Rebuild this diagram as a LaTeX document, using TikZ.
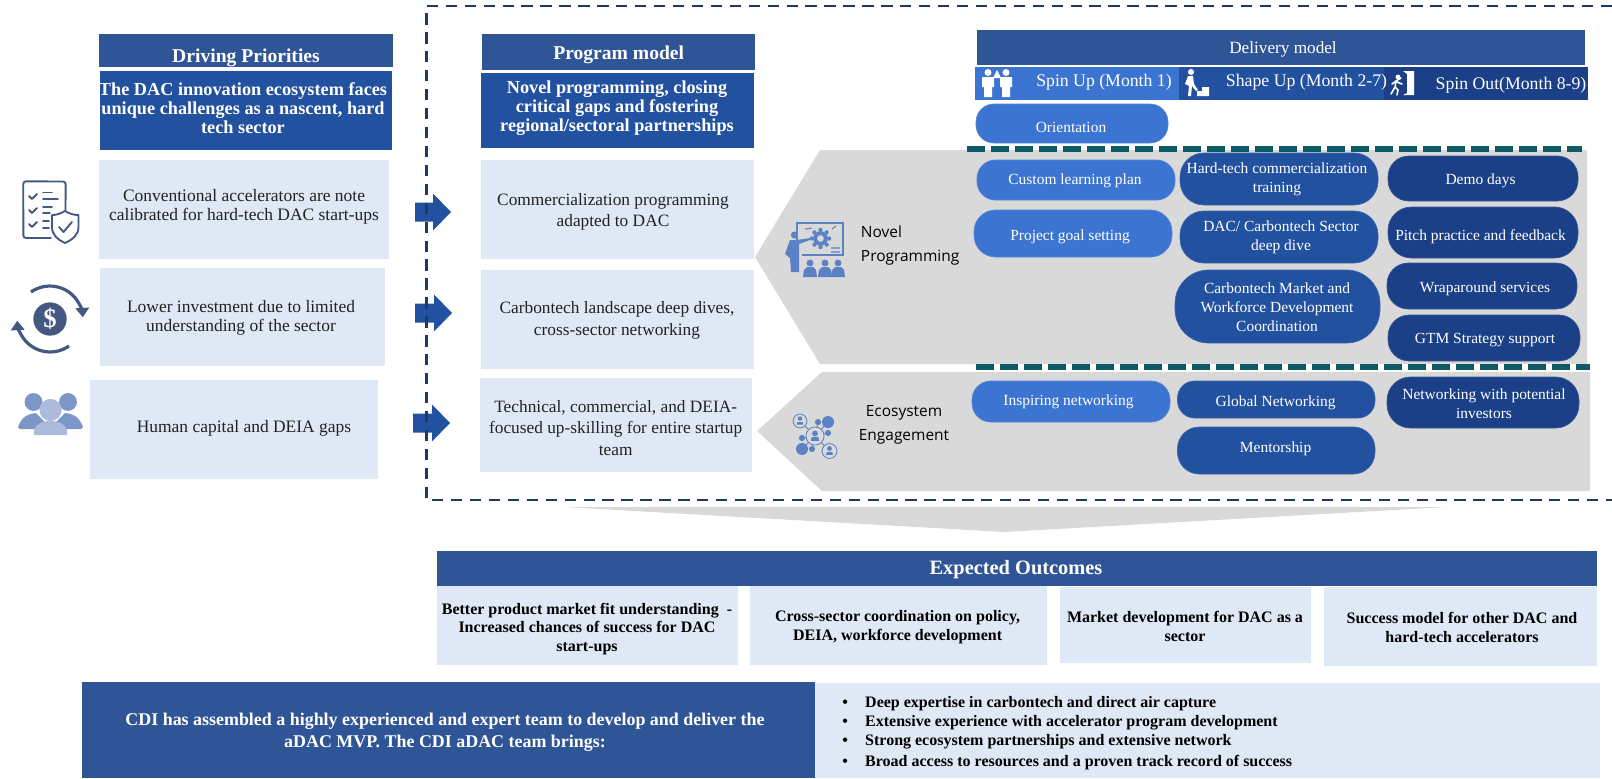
\documentclass[tikz,border=0pt]{standalone}
\usepackage{fontspec}
\setmainfont{Liberation Serif}
\newfontfamily\sansf{Open Sans}
\usetikzlibrary{arrows.meta}
\definecolor{hdr}{HTML}{2F5597}
\definecolor{sub}{HTML}{2251A0}
\definecolor{lite}{HTML}{DEE9F5}
\definecolor{greyb}{HTML}{D9D9D9}
\definecolor{pa}{HTML}{3C74D2}
\definecolor{pb}{HTML}{2251A0}
\definecolor{pc}{HTML}{1B4087}
\definecolor{tealc}{HTML}{0E5A66}
\definecolor{navy}{HTML}{1F3864}
\definecolor{ink}{HTML}{44597F}
\definecolor{ppa}{HTML}{7C96C7}
\definecolor{ppb}{HTML}{ACBBDC}
\definecolor{ico}{HTML}{5B82C4}
\definecolor{txt}{HTML}{222222}
\newcommand\boxnode[6]{%
  \pgfmathsetmacro\bw{(#5-#3)*.75}\pgfmathsetmacro\bh{(#6-#4)*.75}%
  \node[#2,rectangle,inner sep=0pt,outer sep=0pt,minimum width=\bw pt,minimum height=\bh pt] (#1) at ({(#3+#5)/2},{(#4+#6)/2}) {};}
\newcommand\pillnode[6]{%
  \pgfmathsetmacro\bw{(#5-#3)*.75}\pgfmathsetmacro\bh{(#6-#4)*.75}\pgfmathsetmacro\br{(#6-#4)*.75*.46}%
  \node[fill=#2,draw=#2!88!white,line width=.5pt,rectangle,rounded corners=\br pt,inner sep=0pt,outer sep=0pt,minimum width=\bw pt,minimum height=\bh pt] (#1) at ({(#3+#5)/2},{(#4+#6)/2}) {};}
\newcommand\lbl[5]{\node[yshift=-1.5pt,inner sep=0pt,align=center,#2] (#1) at (#3,#4) {#5};}
\newcommand\arrowblock[5]{% name tailx headx tipx y
  \fill[sub] (#2,#5-9.5) -- (#3,#5-9.5) -- (#3,#5-18.5) -- (#4,#5) -- (#3,#5+18.5) -- (#3,#5+9.5) -- (#2,#5+9.5) -- cycle;
  \coordinate (#1) at (#4,#5);}
\tikzset{
  hdrbox/.style={fill=hdr},
  subbox/.style={fill=sub},
  litebox/.style={fill=lite},
  hdrtxt/.style={text=white,font=\fontsize{14.7}{16}\selectfont\bfseries},
  subtxt/.style={text=white,font=\fontsize{13.7}{14.3}\selectfont\bfseries},
  bodyt/.style={text=txt,font=\fontsize{13.1}{14.3}\selectfont},
  progt/.style={text=txt,font=\fontsize{13}{16}\selectfont},
  pillt/.style={text=white,font=\fontsize{11.6}{14.2}\selectfont},
  phaset/.style={text=white,font=\fontsize{13.3}{16}\selectfont},
  outt/.style={text=black,font=\fontsize{12}{14.2}\selectfont\bfseries},
  bult/.style={text=black,font=\fontsize{12}{14}\selectfont\bfseries,anchor=west},
  sanst/.style={text=black,font=\sansf\fontsize{11.6}{18}\selectfont},
  tealdash/.style={tealc,line width=4.5pt,dash pattern=on 13.5pt off 4.5pt},
  navydash/.style={navy,line width=2pt,dash pattern=on 8.5pt off 5.7pt},
  inkline/.style={ink,line width=1.4pt,line cap=round,line join=round},
}
\begin{document}
\begin{tikzpicture}[x=.75pt,y=-.75pt]
\useasboundingbox (0,0) rectangle (1612,778);
% grey chevrons
\fill[greyb] (755,257) -- (820,150) -- (1587,150) -- (1587,364) -- (820,364) -- cycle;
\fill[greyb] (757,431) -- (822,372) -- (1590,372) -- (1590,491) -- (822,491) -- cycle;
\fill[greyb] (564,507) -- (1447,507) -- (1004,532) -- cycle;
% left column
\boxnode{dp}{hdrbox}{99}{34}{393}{67}
\boxnode{dps}{subbox}{100}{71}{392}{150}
\boxnode{dp1}{litebox}{99}{160}{389}{259}
\boxnode{dp2}{litebox}{100}{268}{385}{366}
\boxnode{dp3}{litebox}{90}{380}{378}{479}
\lbl{dpt}{hdrtxt}{246}{56}{Driving Priorities}
\lbl{dpst}{subtxt}{243}{106.5}{The DAC innovation ecosystem faces\\unique challenges as a nascent, hard\\tech sector}
\lbl{dp1t}{bodyt}{244}{204.5}{Conventional accelerators are note\\calibrated for hard-tech DAC start-ups}
\lbl{dp2t}{bodyt}{241}{316}{Lower investment due to limited\\understanding of the sector}
\lbl{dp3t}{bodyt}{244}{426}{Human capital and DEIA gaps}
% program column
\boxnode{pm}{hdrbox}{482}{34}{755}{70}
\boxnode{pms}{subbox}{481}{73}{754}{148}
\boxnode{pm1}{litebox}{481}{160}{754}{259}
\boxnode{pm2}{litebox}{481}{270}{754}{369}
\boxnode{pm3}{litebox}{480}{378}{752}{472}
\lbl{pmt}{hdrtxt}{618.7}{53}{Program model}
\lbl{pmst}{subtxt}{617}{106}{Novel programming, closing\\critical gaps and fostering\\regional/sectoral partnerships}
\lbl{pm1t}{progt}{613}{209.5}{Commercialization programming\\adapted to DAC}
\lbl{pm2t}{progt}{617}{318.5}{Carbontech landscape deep dives,\\cross-sector networking}
\lbl{pm3t}{progt}{615.7}{426}{Technical, commercial, and DEIA-\\focused up-skilling for entire startup\\team}
% block arrows
\arrowblock{a1}{415}{433}{451}{212}
\arrowblock{a2}{415}{434}{452}{313}
\arrowblock{a3}{413}{432}{450}{423}
% outer dashed frame
\coordinate (frameTR) at (1612,6);
\coordinate (frameBR) at (1612,500);
\draw[navydash] (frameTR) -- (426.5,6) -- (426.5,500) -- (frameBR);
% delivery model
\boxnode{dm}{hdrbox}{977}{30}{1585}{65}
\boxnode{ph1}{fill=pa}{975}{67}{1179}{100}
\boxnode{ph2}{fill=pb}{1179}{67}{1384}{100}
\boxnode{ph3}{fill=pc}{1384}{67}{1588}{100}
\lbl{dmt}{phaset,font=\fontsize{12.9}{16}\selectfont}{1283}{47}{Delivery model}
\lbl{ph1t}{phaset}{1104}{80}{Spin Up (Month 1)}
\lbl{ph2t}{phaset}{1306.5}{80}{Shape Up (Month 2-7)}
\lbl{ph3t}{phaset}{1511}{83}{Spin Out(Month 8-9)}
\pillnode{or}{pa}{976}{104}{1168}{143}
\lbl{ort}{pillt}{1071}{125}{Orientation}
\pillnode{cu}{pa}{977}{160}{1175}{200}
\lbl{cut}{pillt}{1075}{178.5}{Custom learning plan}
\pillnode{pg}{pa}{974}{210}{1172}{257}
\lbl{pgt}{pillt}{1070}{235}{Project goal setting}
\pillnode{ht}{pb}{1180}{153}{1378}{205}
\lbl{htt}{pillt}{1277}{177}{Hard-tech commercialization\\training}
\pillnode{dc}{pb}{1180}{211}{1378}{263}
\lbl{dct}{pillt}{1281}{235}{DAC/ Carbontech Sector\\deep dive}
\pillnode{cm}{pb}{1175}{270}{1380}{343}
\lbl{cmt}{pillt}{1277}{305}{Carbontech Market and\\Workforce Development\\Coordination}
\pillnode{de}{pc}{1388}{156}{1578}{201}
\lbl{det}{pillt}{1480.5}{179}{Demo days}
\pillnode{pi}{pc}{1388}{207}{1578}{258}
\lbl{pit}{pillt}{1480.5}{235}{Pitch practice and feedback}
\pillnode{wr}{pc}{1387}{263}{1577}{309}
\lbl{wrt}{pillt}{1485}{287}{Wraparound services}
\pillnode{gt}{pc}{1388}{315}{1580}{361}
\lbl{gtt}{pillt}{1485}{338}{GTM Strategy support}
\pillnode{in}{pa}{972}{381}{1170}{422}
\lbl{int}{pillt}{1068.5}{400}{Inspiring networking}
\pillnode{gl}{pb}{1177.5}{381}{1375}{418}
\lbl{glt}{pillt}{1275.6}{401}{Global Networking}
\pillnode{me}{pb}{1177.5}{427}{1375}{474}
\lbl{met}{pillt}{1275.6}{447}{Mentorship}
\pillnode{nw}{pc}{1387}{377}{1579}{428}
\lbl{nwt}{pillt}{1484}{402}{Networking with potential\\investors}
% teal dividers
\coordinate (t1a) at (967,149); \coordinate (t1b) at (1582,149);
\coordinate (t2a) at (976,367); \coordinate (t2b) at (1590,367);
\draw[tealdash] (t1a) -- (t1b);
\draw[tealdash] (t2a) -- (t2b);
% side labels
\lbl{np}{sanst,anchor=west,align=left}{860.7}{243}{Novel\\Programming}
\lbl{ee}{sanst}{904}{423}{Ecosystem\\Engagement}
% outcomes
\boxnode{eo}{hdrbox}{437}{551}{1597}{586}
\lbl{eot}{text=white,font=\fontsize{15.3}{17}\selectfont\bfseries}{1016}{568}{Expected Outcomes}
\boxnode{o1}{litebox}{437}{586}{738}{665}
\boxnode{o2}{litebox}{750}{586}{1047}{665}
\boxnode{o3}{litebox}{1059.5}{587}{1311}{663}
\boxnode{o4}{litebox}{1324}{587}{1597}{666}
\lbl{o1t}{outt}{587}{627}{Better product market fit understanding\ \ -\\Increased chances of success for DAC\\start-ups}
\lbl{o2t}{outt}{897.6}{625.5}{Cross-sector coordination on policy,\\DEIA, workforce development}
\lbl{o3t}{outt}{1185}{624.5}{Market development for DAC as a\\sector}
\lbl{o4t}{outt}{1462}{625.5}{Success model for other DAC and\\hard-tech accelerators}
% team
\boxnode{tl}{hdrbox}{82}{682}{815}{778}
\boxnode{tr}{litebox}{815}{683}{1600}{778}
\lbl{tlt}{text=white,font=\fontsize{13.45}{16.5}\selectfont\bfseries}{445}{730}{CDI has assembled a highly experienced and expert team to develop and deliver the\\aDAC MVP. The CDI aDAC team brings:}
\lbl{b1}{bult}{842}{702}{•\hspace{13pt}Deep expertise in carbontech and direct air capture}
\lbl{b2}{bult}{842}{721}{•\hspace{13pt}Extensive experience with accelerator program development}
\lbl{b3}{bult}{842}{740}{•\hspace{13pt}Strong ecosystem partnerships and extensive network}
\lbl{b4}{bult}{842}{761}{•\hspace{13pt}Broad access to resources and a proven track record of success}
% --- icons ---
% checklist
\draw[inkline] (51,238) -- (26,238) arc[start angle=270,end angle=180,radius=2pt] -- (23.3,184) arc[start angle=180,end angle=90,radius=2pt] -- (63,181.5) arc[start angle=90,end angle=0,radius=2pt] -- (65.5,211);
\foreach \yy in {197,211,225}{\draw[inkline] (29,\yy-1) -- (32,\yy+2) -- (37,\yy-3);}
\draw[inkline] (43,192.5) -- (52,192.5) (43,199) -- (58,199) (43,207) -- (52,207) (43,213) -- (50,213) (43,221) -- (49,221) (43,228) -- (49,228);
\draw[inkline,fill=white] (65,211) .. controls (70,214) and (74,215) .. (78.5,215) -- (78.5,227) .. controls (78.5,235) and (72,240) .. (65,243) .. controls (58,240) and (52,235) .. (52,227) -- (52,215) .. controls (56,215) and (60,214) .. (65,211) -- cycle;
\draw[inkline] (59,227) -- (63.5,232) -- (72,222);
% dollar cycle
\fill[ink] (50,319) circle[radius=12.5pt];
\node[text=white,font=\fontsize{20}{20}\selectfont\bfseries,inner sep=0pt] (dollar) at (50,318.5) {\$};
\draw[ink,line width=2.4pt,-{Triangle[width=10pt,length=7pt]}] (31,292) arc[start angle=125,end angle=3,radius=24.7pt];
\draw[ink,line width=2.4pt,-{Triangle[width=10pt,length=7pt]}] (69,346) arc[start angle=-55,end angle=-177,radius=24.7pt];
% people
\fill[ppa] (33.5,402) circle[radius=6.7pt];
\fill[ppa] (68,402) circle[radius=6.7pt];
\fill[ppa] (18,427) .. controls (22,416) and (28,414) .. (36,413) -- (48,425) -- (48,429) -- (20,429) -- cycle;
\fill[ppa] (83,427) .. controls (79,416) and (73,414) .. (65,413) -- (53,425) -- (53,429) -- (81,429) -- cycle;
\fill[ppb] (50.5,410) circle[radius=8.3pt];
\fill[ppb] (34,435) -- (34,430) .. controls (36,424) and (42,421) .. (50.5,421) .. controls (59,421) and (65,424) .. (67,430) -- (67,435) -- cycle;
% presenter
\draw[ico,line width=.9pt] (797,240) -- (797,223) -- (843,223) -- (843,255) -- (802,255);
\foreach \a in {0,45,...,315}{\fill[ico] (820.5,238.5) ++(\a:6.5pt) circle[radius=1.6pt];}
\fill[ico] (820.5,238.5) circle[radius=5.5pt];
\fill[greyb] (820.5,238.5) circle[radius=2.5pt];
\draw[ico,line width=.8pt] (805,229) -- (812,228) (832,229) -- (836,226) (831,248) -- (840,248) (831,252) -- (840,252);
\fill[ico] (794.5,235) circle[radius=2.7pt];
\fill[ico] (790,240) -- (797,240) -- (810,238) -- (810,240) -- (799,244) -- (799,272) -- (791,272) -- (790,258) -- (785,254) -- cycle;
\foreach \xx in {810,825,838}{\fill[ico] (\xx,263) circle[radius=2.6pt];
  \fill[ico] (\xx-7,277) -- (\xx-6,270) -- (\xx-3,267) -- (\xx+3,267) -- (\xx+6,270) -- (\xx+7,277) -- cycle;}
% network
\draw[ico,line width=.7pt] (800,421) -- (815,436) -- (828,422) (815,436) -- (829.5,451) (815,436) -- (802,449) (818,422) -- (815,436) (828,433) -- (815,436) (802,438) -- (815,436) (812,449) -- (815,436);
\foreach \cx/\cy/\cr in {800/421/5.2,815/436/6.8,829.5/451/5.6}{
  \fill[greyb] (\cx,\cy) circle[radius=\cr pt];
  \draw[ico,line width=.6pt] (\cx,\cy) circle[radius=\cr pt];
  \fill[ico] (\cx,\cy-2.5) circle[radius=.32*\cr pt];
  \fill[ico] (\cx-.6*\cr,\cy+.7*\cr) -- (\cx-.5*\cr,\cy+1) -- (\cx+.5*\cr,\cy+1) -- (\cx+.6*\cr,\cy+.7*\cr) -- cycle;}
\foreach \cx/\cy/\cr in {828/422/4.5,802/449/4.5,818/422/2.3,828/433/2.3,802/438/2.3,812/449/2.3}{\fill[ico] (\cx,\cy) circle[radius=\cr pt];}
% phase icons
\foreach \xx in {988,1006}{\fill[white] (\xx,72.5) circle[radius=2.6pt];
  \fill[white] (\xx-6,77) -- (\xx+6,77) -- (\xx+6,87) -- (\xx+4,87) -- (\xx+4,97) -- (\xx-4,97) -- (\xx-4,87) -- (\xx-6,87) -- cycle;}
\fill[white] (997,70) -- (1001,78) -- (993,78) -- cycle;
\fill[white] (1191,72) circle[radius=2.3pt];
\fill[white] (1188,76) -- (1193,76) -- (1194,84) -- (1198,90) -- (1196,91) -- (1192,86) -- (1191,96) -- (1188,96) -- (1189,86) -- (1185,84) -- cycle;
\fill[white] (1197,96) -- (1197,91) -- (1202,91) -- (1202,87) -- (1209,87) -- (1209,96) -- cycle;
\fill[white] (1403,71) -- (1414,71) -- (1414,95) -- (1403,95) -- (1407,93) -- (1407,74) -- cycle;
\fill[white] (1398,77) circle[radius=1.8pt];
\draw[white,line width=1.2pt,line cap=round] (1401,78) -- (1396,81) -- (1395,87) -- (1398,90) -- (1397,95) (1395,87) -- (1391,94) (1396,81) -- (1392,84) (1397,82) -- (1402,84);
\end{tikzpicture}
\end{document}
